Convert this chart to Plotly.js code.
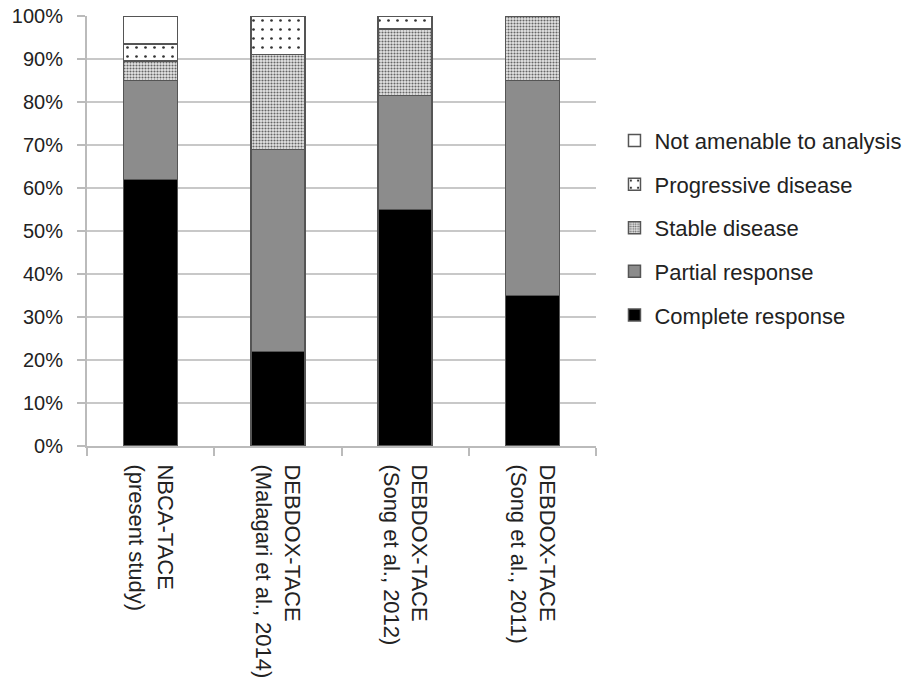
<!DOCTYPE html>
<html>
<head>
<meta charset="utf-8">
<script src="https://cdn.plot.ly/plotly-3.0.1.min.js"></script>
<style>html,body{margin:0;padding:0;background:#fff;}#chart{width:909px;height:686px;}</style>
</head>
<body>
<div id="chart"></div>
<script>
const categories = [
  "NBCA-TACE<br>(present study)",
  "DEBDOX-TACE<br>(Malagari et al., 2014)",
  "DEBDOX-TACE<br>(Song et al., 2012)",
  "DEBDOX-TACE<br>(Song et al., 2011)"
];
const completeResponse = [62, 22, 55, 35];
const partialResponse = [23, 47, 26.5, 50];
const stableDisease = [4.5, 22, 15.5, 15];
const progressiveDisease = [4, 9, 3, 0];
const notAmenable = [6.5, 0, 0, 0];
const yTickVals = [0, 10, 20, 30, 40, 50, 60, 70, 80, 90, 100];
const yTickText = ["0%", "10%", "20%", "30%", "40%", "50%", "60%", "70%", "80%", "90%", "100%"];

const outline = {color: "#555", width: 1.5};
function bar(name, y, rank, marker) {
  return {type: "bar", name: name, legendgroup: name, legendrank: rank, x: categories, y: y, width: 0.425,
    marker: Object.assign({line: outline}, marker), hoverinfo: "y+name"};
}
const data = [
  bar("Complete response", completeResponse, 5, {color: "#000000"}),
  bar("Partial response", partialResponse, 4, {color: "#8c8c8c"}),
  bar("Stable disease", stableDisease, 3, {color: "#d8d8d8",
    pattern: {shape: ".", fgcolor: "#666", bgcolor: "#e6e6e6", size: 3, solidity: 0.4}}),
  bar("Progressive disease", progressiveDisease, 2, {color: "#ffffff",
    pattern: {shape: ".", fgcolor: "#333", bgcolor: "#ffffff", size: 9, solidity: 0.07}}),
  bar("Not amenable to analysis", notAmenable, 1, {color: "#ffffff"})
];
const layout = {
  width: 909, height: 686,
  margin: {l: 87, r: 313, t: 16, b: 240},
  barmode: "stack",
  paper_bgcolor: "#fff", plot_bgcolor: "#fff",
  font: {family: "Liberation Sans, Arial, sans-serif", color: "#222", size: 21},
  showlegend: true,
  legend: {xref: "container", x: 0.676, xanchor: "left", yref: "container", y: 0.668, yanchor: "middle",
    traceorder: "grouped", tracegroupgap: 12,
    font: {size: 22, color: "#222"}, itemwidth: 30},
  xaxis: {type: "category", tickangle: 90, showgrid: false, showline: true, linecolor: "#bbb", linewidth: 2,
    ticks: "outside", ticklen: 8, tickcolor: "#bbb", tickwidth: 2, tickson: "boundaries",
    ticklabelstandoff: 12,
    tickfont: {size: 22, color: "#222"}, fixedrange: true},
  yaxis: {range: [0, 100], tickvals: yTickVals, ticktext: yTickText, showgrid: true, gridcolor: "#c8c8c8", gridwidth: 2,
    showline: true, linecolor: "#bbb", linewidth: 2, ticks: "outside", ticklen: 8, tickcolor: "#bbb", tickwidth: 2,
    ticklabelstandoff: 10,
    zeroline: false, tickfont: {size: 20, color: "#222"}, fixedrange: true}
};
Plotly.newPlot("chart", data, layout, {displayModeBar: false, staticPlot: true});
</script>
</body>
</html>
